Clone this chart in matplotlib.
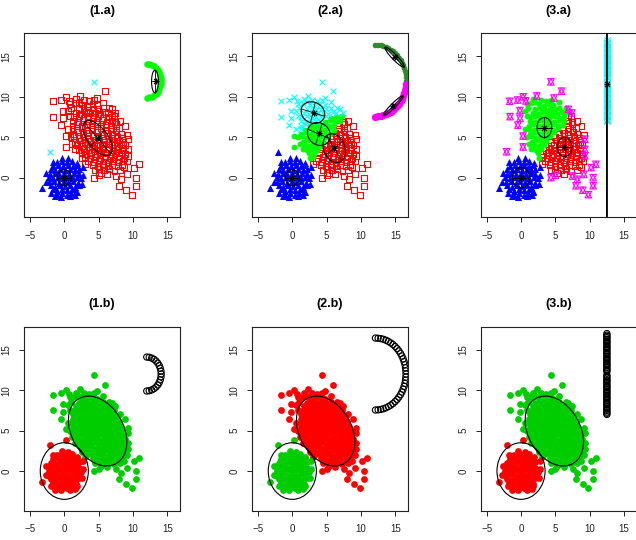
import numpy as np
import matplotlib
matplotlib.use("Agg")
import matplotlib.pyplot as plt
from matplotlib.patches import Ellipse

plt.rcParams['font.family'] = ['Liberation Sans', 'DejaVu Sans']

# round blob around the origin
blob_a = [
    (-1.0, -2.1), (-0.3, -1.95), (0.4, -2.1), (1.0, -1.9),
    (-1.7, -1.45), (-1.0, -1.6), (-0.3, -1.4), (0.4, -1.55), (1.1, -1.45), (1.7, -1.6),
    (-2.0, -0.95), (-1.3, -1.1), (-0.6, -0.9), (0.1, -1.05), (0.8, -0.95), (1.5, -1.1), (2.1, -0.9),
    (-2.2, -0.55), (-1.5, -0.4), (-0.8, -0.6), (-0.1, -0.45), (0.6, -0.55), (1.3, -0.4), (2.0, -0.6),
    (-2.3, 0.05), (-1.6, -0.1), (-0.9, 0.1), (-0.2, -0.05), (0.5, 0.1), (1.2, -0.05), (1.9, 0.05), (2.4, -0.1),
    (-2.1, 0.45), (-1.4, 0.6), (-0.7, 0.4), (0.0, 0.55), (0.7, 0.45), (1.4, 0.6), (2.1, 0.4),
    (-2.0, 1.05), (-1.3, 0.9), (-0.6, 1.1), (0.1, 0.95), (0.8, 1.05), (1.5, 0.9), (2.1, 1.1),
    (-1.6, 1.45), (-0.9, 1.6), (-0.2, 1.4), (0.5, 1.55), (1.2, 1.45), (1.8, 1.6),
    (-1.0, 1.95), (-0.3, 2.1), (0.4, 1.9), (1.1, 2.05),
    (-2.6, 0.6), (-2.7, -0.5), (2.7, 0.3), (2.6, -0.8), (-0.4, 2.45), (0.6, 2.4),
    (-0.5, -2.4), (0.8, -2.3), (-1.9, -1.9), (1.8, -1.8), (-1.7, 2.0), (1.9, 1.8),
    (1.6, -2.2), (-1.3, -2.3), (-3.2, -1.3), (2.7, 1.3),
]

# elongated cloud, dense part
cloud_b_core = [
    (5.0, 1.1), (5.8, 0.9), (6.5, 1.05), (7.3, 0.85),
    (4.2, 1.6), (4.9, 1.4), (5.6, 1.55), (6.4, 1.45), (7.0, 1.6), (7.8, 1.4), (8.4, 1.6),
    (3.5, 2.1), (4.3, 1.9), (5.0, 2.05), (5.7, 2.0), (6.3, 1.9), (7.1, 2.1), (7.8, 1.95), (8.5, 2.1),
    (3.0, 2.6), (3.8, 2.4), (4.5, 2.55), (5.2, 2.45), (5.9, 2.6), (6.6, 2.4), (7.3, 2.55), (8.0, 2.5), (8.7, 2.4),
    (2.5, 3.1), (3.2, 2.95), (3.9, 3.05), (4.7, 2.9), (5.3, 3.1), (6.1, 3.0), (6.8, 2.9), (7.5, 3.1), (8.2, 3.0), (8.9, 2.9),
    (2.2, 3.4), (2.9, 3.6), (3.6, 3.45), (4.3, 3.55), (5.0, 3.4), (5.7, 3.6), (6.4, 3.5), (7.1, 3.4), (7.8, 3.6), (8.6, 3.45),
    (1.9, 4.05), (2.6, 3.9), (3.3, 4.1), (4.0, 3.95), (4.8, 4.05), (5.5, 3.9), (6.1, 4.1), (6.9, 4.0), (7.6, 3.9), (8.3, 4.1), (8.9, 4.0),
    (1.6, 4.45), (2.3, 4.6), (3.0, 4.4), (3.7, 4.55), (4.4, 4.45), (5.1, 4.6), (5.8, 4.4), (6.5, 4.55), (7.2, 4.45), (7.9, 4.6), (8.6, 4.4),
    (1.4, 5.1), (2.1, 4.95), (2.8, 5.05), (3.5, 4.9), (4.2, 5.1), (4.9, 5.0), (5.6, 4.9), (6.3, 5.1), (7.0, 4.95), (7.7, 5.05), (8.4, 4.9),
    (1.3, 5.45), (2.0, 5.6), (2.7, 5.4), (3.4, 5.55), (4.1, 5.45), (4.8, 5.6), (5.5, 5.4), (6.2, 5.55), (6.9, 5.45), (7.6, 5.6), (8.2, 5.4),
    (1.2, 6.05), (1.9, 5.9), (2.6, 6.1), (3.3, 5.95), (4.0, 6.05), (4.7, 5.9), (5.4, 6.1), (6.1, 5.95), (6.8, 6.05), (7.5, 5.9), (8.0, 6.1),
    (1.2, 6.45), (1.9, 6.6), (2.6, 6.4), (3.3, 6.55), (4.0, 6.45), (4.7, 6.6), (5.4, 6.4), (6.1, 6.55), (6.8, 6.45), (7.5, 6.6),
    (1.3, 7.05), (2.0, 6.9), (2.7, 7.1), (3.4, 6.95), (4.1, 7.05), (4.8, 6.9), (5.5, 7.1), (6.2, 6.95), (6.9, 7.05), (7.4, 6.9),
    (1.4, 7.45), (2.1, 7.6), (2.8, 7.4), (3.5, 7.55), (4.2, 7.45), (4.9, 7.6), (5.6, 7.4), (6.3, 7.55), (6.9, 7.45),
    (1.7, 8.05), (2.4, 7.9), (3.1, 8.1), (3.8, 7.95), (4.5, 8.05), (5.2, 7.9), (5.9, 8.1), (6.4, 7.95),
    (2.1, 8.45), (2.8, 8.6), (3.5, 8.4), (4.2, 8.55), (4.9, 8.45), (5.6, 8.6),
    (2.6, 9.05), (3.3, 8.9), (4.1, 9.1), (4.7, 8.95),
    (1.7, 9.7), (0.8, 9.1), (0.6, 8.2), (1.0, 8.6), (1.5, 9.2), (2.9, 9.6), (3.6, 9.5), (0.8, 7.6),
    (0.6, 6.0), (0.9, 5.0), (1.1, 4.2), (1.5, 3.5), (2.6, 2.4), (3.0, 1.7), (4.4, 1.0), (5.3, 0.6),
    (6.2, 0.5), (8.1, 1.0), (8.7, 1.3), (9.1, 2.0), (9.2, 5.3), (8.8, 6.4), (8.1, 7.0), (7.3, 7.6),
    (6.5, 8.6), (5.6, 9.3), (4.3, 9.6), (2.1, 9.3),
]

# elongated cloud, scattered part
cloud_b_far = [
    (4.35, 11.85), (5.9, 10.7), (4.8, 9.85), (-1.65, 9.45), (-1.6, 7.55), (-0.5, 9.6),
    (0.3, 10.0), (0.7, 9.5), (-0.15, 8.3), (-0.15, 7.35), (-0.45, 6.5), (0.3, 5.15),
    (2.3, 10.1), (6.9, 8.45), (7.4, 8.0), (9.3, 4.75), (9.3, 3.5), (9.3, 2.7),
    (10.2, 1.25), (10.9, 1.65), (10.5, 0.0), (10.5, -1.0), (9.8, -2.1), (9.0, -1.55),
    (8.0, -1.0), (8.2, -0.2), (9.15, 0.4), (7.5, 0.2), (4.35, 0.0), (5.0, 0.3),
]

# two points sitting between the clouds
between = [(-2.1, 3.2), (0.3, 3.8)]

# third group: small arc, large arc, vertical line
arc_small_x = [12.00, 12.36, 12.72, 13.05, 13.35, 13.61, 13.82, 13.97, 14.07, 14.10,
               14.07, 13.97, 13.82, 13.61, 13.35, 13.05, 12.72, 12.36, 12.00]
arc_small_y = [14.10, 14.07, 13.97, 13.82, 13.61, 13.35, 13.05, 12.72, 12.36, 12.00,
               11.64, 11.28, 10.95, 10.65, 10.39, 10.18, 10.03, 9.93, 9.90]
arc_big_x = [12.10, 12.49, 12.87, 13.25, 13.62, 13.98, 14.33, 14.65, 14.96, 15.25,
             15.51, 15.75, 15.95, 16.13, 16.28, 16.40, 16.48, 16.53, 16.55,
             16.53, 16.48, 16.40, 16.28, 16.13, 15.95, 15.75, 15.51, 15.25,
             14.96, 14.65, 14.33, 13.98, 13.62, 13.25, 12.87, 12.49, 12.10]
arc_big_y = [16.45, 16.43, 16.38, 16.30, 16.18, 16.03, 15.85, 15.65, 15.41, 15.15,
             14.86, 14.55, 14.23, 13.88, 13.52, 13.15, 12.77, 12.39, 12.00,
             11.61, 11.23, 10.85, 10.48, 10.12, 9.77, 9.45, 9.14, 8.85,
             8.59, 8.35, 8.15, 7.97, 7.82, 7.70, 7.62, 7.57, 7.55]
line_x = 12.5
line_y = [7.0, 7.15, 7.3, 7.5, 7.65, 7.8, 8.0, 8.2, 8.35, 8.5, 8.7, 8.9, 9.05, 9.2, 9.4,
          9.6, 9.75, 9.9, 10.1, 10.3, 10.45, 10.6, 10.8, 11.0, 11.15, 11.3, 11.5, 11.7,
          11.85, 12.3, 12.45, 12.6, 12.8, 13.0, 13.15, 13.3, 13.5, 13.7, 13.85, 14.0,
          14.2, 14.4, 14.55, 14.7, 14.9, 15.1, 15.25, 15.4, 15.6, 15.8, 15.95, 16.1,
          16.3, 16.5, 16.65, 16.8, 17.0]

# fitted components of the top row: centre, width, height, angle
fit_1a = [((0.0, 0.0), 2.0, 2.0, 0), ((4.85, 4.9), 5.46, 2.72, -45), ((13.2, 11.9), 1.0, 2.8, 0)]
stars_1a = [(0.0, 0.0), (4.9, 4.9), (13.3, 12.0)]
fit_2a = [((0.0, 0.0), 2.0, 2.0, 0), ((3.0, 8.05), 3.5, 2.6, -15), ((3.87, 5.4), 3.4, 2.76, -20),
          ((6.1, 3.65), 3.8, 3.0, -55), ((14.9, 14.9), 3.7, 0.7, -41), ((14.7, 8.9), 3.8, 0.6, 40)]
stars_2a = [(0.0, 0.0), (3.1, 8.0), (3.9, 5.5), (6.1, 3.7), (14.9, 14.9), (14.7, 8.9)]
fit_3a = [((0.0, 0.0), 2.5, 2.5, 0), ((3.4, 6.2), 2.14, 2.48, 0), ((6.35, 3.8), 2.14, 2.38, 0),
          ((12.5, 11.6), 0.02, 60.0, 0)]
stars_3a = [(0.0, 0.0), (3.4, 6.2), (6.3, 3.8), (12.5, 11.6)]

# final clusters of the bottom row
final_a = ((0.0, 0.0), 7.0, 7.0, 0)
final_b = ((4.85, 4.95), 9.82, 7.12, -46.5)

RED, BLUE, CYAN, LIME, MAG = '#FF0000', '#0000FF', '#00FFFF', '#00FF00', '#FF00FF'
DKGREEN, GREEN3 = '#2E8B2E', '#00CD00'

A = np.array(blob_a)
BC = np.array(cloud_b_core)
BF = np.array(cloud_b_far)
MID = np.array(between)
ARC1 = np.column_stack([arc_small_x, arc_small_y])
ARC2 = np.column_stack([arc_big_x, arc_big_y])
LINE = np.column_stack([np.full(len(line_y), line_x), line_y])


def nearest(pts, centres):
    c = np.array(centres)
    d = ((pts[:, None, :] - c[None, :, :]) ** 2).sum(-1)
    return d.argmin(1)


def style(ax, title):
    ax.set_xlim(-5.87, 16.84)
    ax.set_ylim(-4.9, 17.84)
    ax.set_xticks([-5, 0, 5, 10, 15])
    ax.set_yticks([0, 5, 10, 15])
    ax.tick_params(direction='out', length=3.8, width=0.7, labelsize=7,
                   colors='#222222')
    ax.tick_params(axis='x', pad=6)
    ax.tick_params(axis='y', pad=5, labelrotation=90)
    for lab in ax.get_yticklabels():
        lab.set_va('center')
    for s in ax.spines.values():
        s.set_linewidth(0.8)
        s.set_color('#222222')
    ax.set_title(title, fontsize=9, fontweight='bold', pad=14)


def ellipse(ax, fit, lw=0.8, with_axes=True):
    (cx, cy), w, h, ang = fit
    ax.add_patch(Ellipse((cx, cy), w, h, angle=ang, fill=False, ec='k', lw=lw, zorder=5))
    if with_axes:
        t = np.deg2rad(ang)
        ux, uy = np.cos(t), np.sin(t)
        ax.plot([cx - w / 2 * ux, cx + w / 2 * ux], [cy - w / 2 * uy, cy + w / 2 * uy],
                color='k', lw=0.6, zorder=5)
        ax.plot([cx + h / 2 * uy, cx - h / 2 * uy], [cy - h / 2 * ux, cy + h / 2 * ux],
                color='k', lw=0.6, zorder=5)


def stars(ax, pts):
    p = np.array(pts)
    ax.scatter(p[:, 0], p[:, 1], marker='+', s=22, c='k', lw=0.8, zorder=6)
    ax.scatter(p[:, 0], p[:, 1], marker='x', s=13, c='k', lw=0.8, zorder=6)


def squares(ax, p, col):
    ax.scatter(p[:, 0], p[:, 1], marker='s', s=18, facecolors='none', edgecolors=col, lw=0.8)


def triangles(ax, p, col):
    ax.scatter(p[:, 0], p[:, 1], marker='^', s=26, c=col, lw=0)


def dots(ax, p, col, s=18):
    ax.scatter(p[:, 0], p[:, 1], marker='o', s=s, c=col, lw=0)


def crosses(ax, p, col, s=18):
    ax.scatter(p[:, 0], p[:, 1], marker='x', s=s, c=col, lw=0.8)


def hourglass(ax, p, col):
    ax.scatter(p[:, 0], p[:, 1], marker='^', s=22, facecolors='none', edgecolors=col, lw=0.8)
    ax.scatter(p[:, 0], p[:, 1], marker='v', s=22, facecolors='none', edgecolors=col, lw=0.8)


def rings(ax, p):
    ax.scatter(p[:, 0], p[:, 1], marker='o', s=20, facecolors='none', edgecolors='k', lw=0.8)


fig = plt.figure(figsize=(6.36, 5.40), dpi=100)
lefts = [0.0377, 0.3962, 0.7558]
bottoms = [0.5976, 0.0543]
W, H = 0.2453, 0.3405
axs = [[fig.add_axes([l, b, W, H]) for l in lefts] for b in bottoms]

# (1.a)
ax = axs[0][0]
squares(ax, np.vstack([BC, BF[1:], MID[1:]]), RED)
triangles(ax, A, BLUE)
crosses(ax, np.vstack([BF[:1], MID[:1]]), CYAN)
dots(ax, ARC1, LIME, s=22)
for f in fit_1a:
    ellipse(ax, f)
stars(ax, stars_1a)
style(ax, '(1.a)')

# (2.a)
ax = axs[0][1]
rest = np.vstack([BC, BF, MID[1:]])
lab = nearest(rest, stars_2a[1:4])
squares(ax, rest[lab == 2], RED)
dots(ax, rest[lab == 1], LIME)
crosses(ax, rest[lab == 0], CYAN)
triangles(ax, np.vstack([A, MID[:1]]), BLUE)
lab_arc = nearest(ARC2, stars_2a[4:])
dots(ax, ARC2[lab_arc == 0], DKGREEN, s=16)
dots(ax, ARC2[lab_arc == 1], MAG, s=28)
for f in fit_2a:
    ellipse(ax, f)
stars(ax, stars_2a)
style(ax, '(2.a)')

# (3.a)
ax = axs[0][2]
lab = nearest(BC, stars_3a[1:3])
squares(ax, BC[lab == 1], RED)
dots(ax, BC[lab == 0], LIME)
triangles(ax, A, BLUE)
hourglass(ax, np.vstack([BF, MID]), MAG)
crosses(ax, LINE, CYAN, s=22)
for f in fit_3a[:3]:
    ellipse(ax, f)
ellipse(ax, fit_3a[3], with_axes=False)
stars(ax, stars_3a)
style(ax, '(3.a)')

# bottom row: final clusters
third = [ARC1, ARC2, LINE]
cols = [(RED, GREEN3), (GREEN3, RED), (RED, GREEN3)]
for k in range(3):
    ax = axs[1][k]
    ca, cb = cols[k]
    dots(ax, np.vstack([BC, BF]), cb, s=24)
    dots(ax, np.vstack([A, MID]), ca, s=24)
    rings(ax, third[k])
    ellipse(ax, final_a, with_axes=False)
    ellipse(ax, final_b, with_axes=False)
    style(ax, '(%d.b)' % (k + 1))

fig.savefig('out.png', dpi=100)
